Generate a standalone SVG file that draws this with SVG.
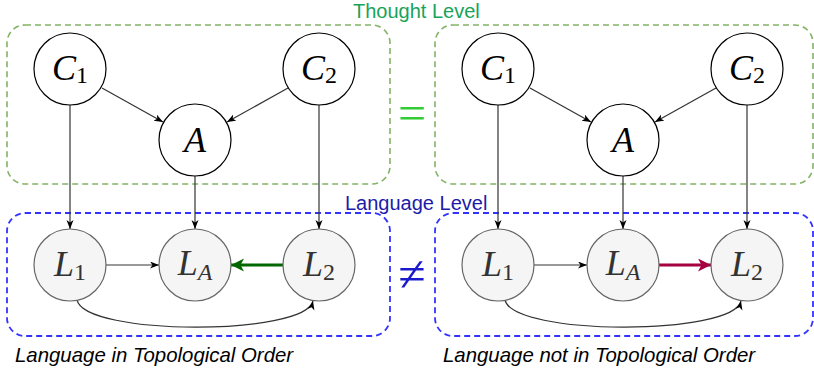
<svg xmlns="http://www.w3.org/2000/svg" width="814" height="368" viewBox="0 0 814 368">
<style>
.box-t{fill:none;stroke:#82b366;stroke-width:1.6;stroke-dasharray:6 4}
.box-l{fill:none;stroke:#3333ff;stroke-width:1.8;stroke-dasharray:6 4}
.cn{fill:#fff;stroke:#000;stroke-width:1.2}
.ln{fill:#f5f5f5;stroke:#666;stroke-width:1.2}
.m{font-family:"Liberation Serif","DejaVu Serif",serif;font-size:36px;text-anchor:middle}
.mi{font-style:italic}
.sub{font-size:24px}
.lbl{font-family:"Liberation Sans",Arial,sans-serif;font-size:20px}
.cap{font-family:"Liberation Sans",Arial,sans-serif;font-size:20.4px;font-style:italic;fill:#000}
.e{fill:none;stroke:#333;stroke-width:1.2}
</style>
<defs>
<marker id="ah" markerUnits="userSpaceOnUse" markerWidth="10" markerHeight="8" refX="9" refY="3.5" orient="auto"><path d="M0,0 L9,3.5 L0,7 L2.5,3.5 z" fill="#000"/></marker>
<marker id="ahg" markerUnits="userSpaceOnUse" markerWidth="14" markerHeight="14" refX="13" refY="6.5" orient="auto"><path d="M0,0 L13,6.5 L0,13 L3.5,6.5 z" fill="#006600"/></marker>
<marker id="ahr" markerUnits="userSpaceOnUse" markerWidth="14" markerHeight="14" refX="13" refY="6.5" orient="auto"><path d="M0,0 L13,6.5 L0,13 L3.5,6.5 z" fill="#a50040"/></marker>
</defs>

<g id="groups">
<rect class="box-t" x="7" y="25" width="383" height="159" rx="18"/>
<rect class="box-l" x="7" y="213" width="383" height="123" rx="18"/>
<rect class="box-t" x="435" y="25" width="378" height="159" rx="18"/>
<rect class="box-l" x="435" y="213" width="378" height="123" rx="18"/>
</g>

<g id="connectors">
<line class="e" x1="70" y1="105" x2="70" y2="229" marker-end="url(#ah)"/>
<line class="e" x1="195" y1="176" x2="195" y2="229" marker-end="url(#ah)"/>
<line class="e" x1="319" y1="105" x2="319" y2="229" marker-end="url(#ah)"/>
<line class="e" x1="102" y1="88" x2="163" y2="122" marker-end="url(#ah)"/>
<line class="e" x1="288" y1="88" x2="227" y2="122" marker-end="url(#ah)"/>
<line x1="106" y1="265" x2="159" y2="265" stroke="#777" stroke-width="1.4" marker-end="url(#ah)"/>
<line x1="283" y1="265" x2="231" y2="265" stroke="#006600" stroke-width="3" marker-end="url(#ahg)"/>
<path class="e" d="M77,300 C85,336 305,336 313,301" marker-end="url(#ah)"/>

<line class="e" x1="498" y1="105" x2="498" y2="229" marker-end="url(#ah)"/>
<line class="e" x1="623" y1="176" x2="623" y2="229" marker-end="url(#ah)"/>
<line class="e" x1="747" y1="105" x2="747" y2="229" marker-end="url(#ah)"/>
<line class="e" x1="530" y1="88" x2="591" y2="122" marker-end="url(#ah)"/>
<line class="e" x1="716" y1="88" x2="655" y2="122" marker-end="url(#ah)"/>
<line x1="534" y1="265" x2="587" y2="265" stroke="#777" stroke-width="1.4" marker-end="url(#ah)"/>
<line x1="659" y1="265" x2="711" y2="265" stroke="#a50040" stroke-width="3" marker-end="url(#ahr)"/>
<path class="e" d="M505,300 C513,336 733,336 741,301" marker-end="url(#ah)"/>
</g>

<g id="C1a"><circle class="cn" cx="70" cy="69" r="36"/><text class="m" x="70" y="80"><tspan class="mi">C</tspan><tspan class="sub" dy="3">1</tspan></text></g>
<g id="C2a"><circle class="cn" cx="319" cy="69" r="36"/><text class="m" x="319" y="80"><tspan class="mi">C</tspan><tspan class="sub" dy="3">2</tspan></text></g>
<g id="Aa"><circle class="cn" cx="195" cy="140" r="36"/><text class="m mi" x="195" y="152">A</text></g>
<g id="L1a"><circle class="ln" cx="70" cy="265" r="36"/><text class="m" x="70" y="276" fill="#333"><tspan class="mi">L</tspan><tspan class="sub" dy="4">1</tspan></text></g>
<g id="LAa"><circle class="ln" cx="195" cy="265" r="36"/><text class="m" x="195" y="275" fill="#333"><tspan class="mi">L</tspan><tspan class="sub mi" dy="5">A</tspan></text></g>
<g id="L2a"><circle class="ln" cx="319" cy="265" r="36"/><text class="m" x="319" y="276" fill="#333"><tspan class="mi">L</tspan><tspan class="sub" dy="4">2</tspan></text></g>

<g id="C1b"><circle class="cn" cx="498" cy="69" r="36"/><text class="m" x="498" y="80"><tspan class="mi">C</tspan><tspan class="sub" dy="3">1</tspan></text></g>
<g id="C2b"><circle class="cn" cx="747" cy="69" r="36"/><text class="m" x="747" y="80"><tspan class="mi">C</tspan><tspan class="sub" dy="3">2</tspan></text></g>
<g id="Ab"><circle class="cn" cx="623" cy="140" r="36"/><text class="m mi" x="623" y="152">A</text></g>
<g id="L1b"><circle class="ln" cx="498" cy="265" r="36"/><text class="m" x="498" y="276" fill="#333"><tspan class="mi">L</tspan><tspan class="sub" dy="4">1</tspan></text></g>
<g id="LAb"><circle class="ln" cx="623" cy="265" r="36"/><text class="m" x="623" y="275" fill="#333"><tspan class="mi">L</tspan><tspan class="sub mi" dy="5">A</tspan></text></g>
<g id="L2b"><circle class="ln" cx="747" cy="265" r="36"/><text class="m" x="747" y="276" fill="#333"><tspan class="mi">L</tspan><tspan class="sub" dy="4">2</tspan></text></g>

<g id="labels">
<text class="lbl" x="353" y="18" fill="#17a35a">Thought Level</text>
<text class="lbl" x="345" y="210" fill="#1c1ca8">Language Level</text>
<text x="412" y="130" font-family="Liberation Serif,serif" font-size="50" text-anchor="middle" fill="#33cc33">=</text>
<text x="412" y="291" font-family="Liberation Serif,serif" font-size="50" text-anchor="middle" fill="#1a1acc">≠</text>
<text class="cap" x="15" y="362">Language in Topological Order</text>
<text class="cap" x="443" y="362">Language not in Topological Order</text>
</g>
</svg>
